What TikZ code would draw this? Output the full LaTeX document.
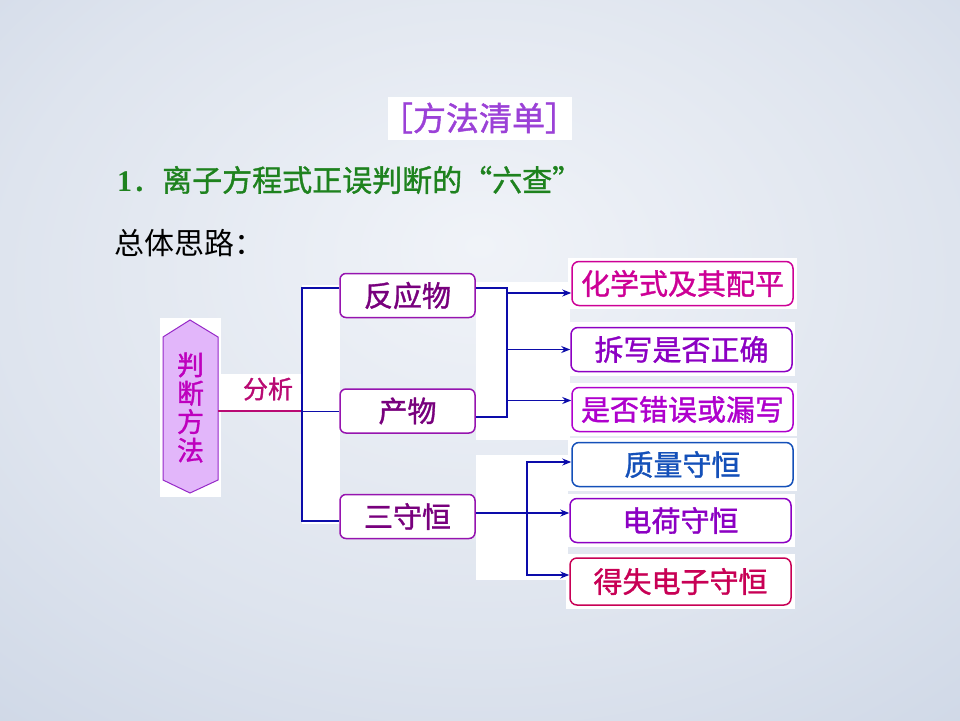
\documentclass[tikz,border=0pt]{standalone}
\usepackage{fontspec}
\setmainfont{Liberation Serif}
\newfontfamily\cjk{Noto Sans CJK SC}
\newfontfamily\cjkb{Noto Sans CJK SC}[FakeBold=1.2]
\usetikzlibrary{arrows.meta,positioning}
\definecolor{bgin}{RGB}{240,243,248}
\definecolor{bgmid}{RGB}{222,228,238}
\definecolor{bgout}{RGB}{184,197,219}
\definecolor{treeblue}{RGB}{12,12,170}
\definecolor{hexfill}{RGB}{226,182,250}
\definecolor{hexline}{RGB}{150,40,200}
\definecolor{hexink}{RGB}{190,0,190}
\definecolor{cutink}{RGB}{185,10,115}
\definecolor{kindline}{RGB}{150,20,175}
\definecolor{kindink}{RGB}{120,0,125}
\definecolor{pinkink}{RGB}{205,0,150}
\definecolor{purpleink}{RGB}{140,0,195}
\definecolor{violetink}{RGB}{175,0,205}
\definecolor{blueink}{RGB}{20,80,185}
\definecolor{redink}{RGB}{200,0,85}
\definecolor{titlegreen}{RGB}{30,130,30}
\definecolor{labelviolet}{RGB}{155,65,215}
\pgfdeclareradialshading{slidebg}{\pgfpoint{0bp}{8bp}}{color(0bp)=(bgin); color(25bp)=(bgmid); color(62bp)=(bgout); color(80bp)=(bgout)}
\tikzset{
  cn/.style={font=\cjkb\fontsize{#1}{#1}\selectfont},
  kindbox/.style={draw=kindline, line width=1.5pt, rounded corners=6pt, fill=white,
    minimum width=135pt, minimum height=44pt, text=kindink, cn=29},
  checkbox/.style={draw=#1, text=#1, line width=1.5pt, rounded corners=7pt, fill=white,
    minimum width=221pt, minimum height=44pt, inner xsep=2pt, cn=29},
  tree/.style={draw=treeblue, line width=2pt},
  thinline/.style={draw=treeblue, line width=1pt},
  arr/.style={draw=treeblue, line width=1.3pt, -{Stealth[length=9pt,width=7pt]}},
  cut/.style={draw=cutink, line width=2pt}
}
\begin{document}
\begin{tikzpicture}[x=1pt,y=-1pt]
\useasboundingbox (0,0) rectangle (960,720);
\shade[shading=slidebg] (0,0) rectangle (960,720);
% white patches behind the pasted parts
\foreach \xa/\ya/\xb/\yb in {388/97/572/140, 160/318/221/497, 220/374/302/412,
  302/285/340/524, 476/282/570/440, 476/455/568/580, 568/258/797/309,
  568/322/795/376, 568/383/797/436, 568/438/797/491, 566/494/795/547, 566/554/795/609}
  \fill[white] (\xa,\ya) rectangle (\xb,\yb);
% headings
\node[text=labelviolet, inner sep=0, font=\cjkb\fontsize{33}{33}\selectfont] (label) at (479,118) {［方法清单］};
\node[anchor=west, text=titlegreen, inner sep=0] (heading) at (117,180)
  {\fontsize{30}{30}\selectfont\textbf{1}\cjkb ．离子方程式正误判断的“六查”};
\node[anchor=west, inner sep=0, font=\cjk\fontsize{30}{30}\selectfont] (route) at (114,243) {总体思路：};
% hexagon
\draw[draw=hexline, fill=hexfill, line width=1pt] (190,320) -- (218,337) -- (218,480)
  -- (190,493) -- (163,480) -- (163,337) -- cycle;
\node[text=hexink, align=center, minimum width=55pt, inner sep=0,
  font=\cjkb\fontsize{27}{28.5}\selectfont] (judge) at (190.5,407.5) {判\\断\\方\\法};
\node[cn=25, text=cutink] (analyse) at (268,389) {分析};
% middle column
\node[kindbox] (react) at (407.5,295.5) {反应物};
\node[kindbox] (prod) at (407.5,411) {产物};
\node[kindbox] (keep) at (407.5,516.5) {三守恒};
% right column
\node[checkbox=pinkink] (formula) at (682.5,283.5) {化学式及其配平};
\node[checkbox=purpleink] (split) at (681.5,349.5) {拆写是否正确};
\node[checkbox=violetink] (miss) at (682.5,409.5) {是否错误或漏写};
\node[checkbox=blueink] (mass) at (682.5,464.5) {质量守恒};
\node[checkbox=purpleink] (charge) at (680.5,520.5) {电荷守恒};
\node[checkbox=redink, minimum height=47pt] (elec) at (680.5,581.5) {得失电子守恒};
% connectors
\coordinate (fork) at (302,411);
\coordinate (jr) at (507,350);
\coordinate (jb) at (527,513);
\draw[cut] (judge.east |- fork) -- (fork);
\draw[tree] ([yshift=8pt]react.west) -| (fork) |- ([yshift=-4.5pt]keep.west);
\draw[thinline] (fork) -- (prod.west);
\draw[tree] ([yshift=8pt]react.east) -| (jr) |- ([yshift=-6pt]prod.east);
\draw[arr] (jr |- formula.west) ++(0,9.5) coordinate (a1) -- (a1 -| formula.west);
\draw[arr] (jr |- split.west) -- (split.west);
\draw[arr] (jr |- miss.west) ++(0,-9) coordinate (a3) -- (a3 -| miss.west);
\draw[arr] ([yshift=3.5pt]keep.east) -- (jb) -- (jb -| charge.west);
\draw[arr] (jb) |- ([yshift=2.5pt]mass.west);
\draw[arr] (jb) |- ([yshift=6.5pt]elec.west);
\end{tikzpicture}
\end{document}
